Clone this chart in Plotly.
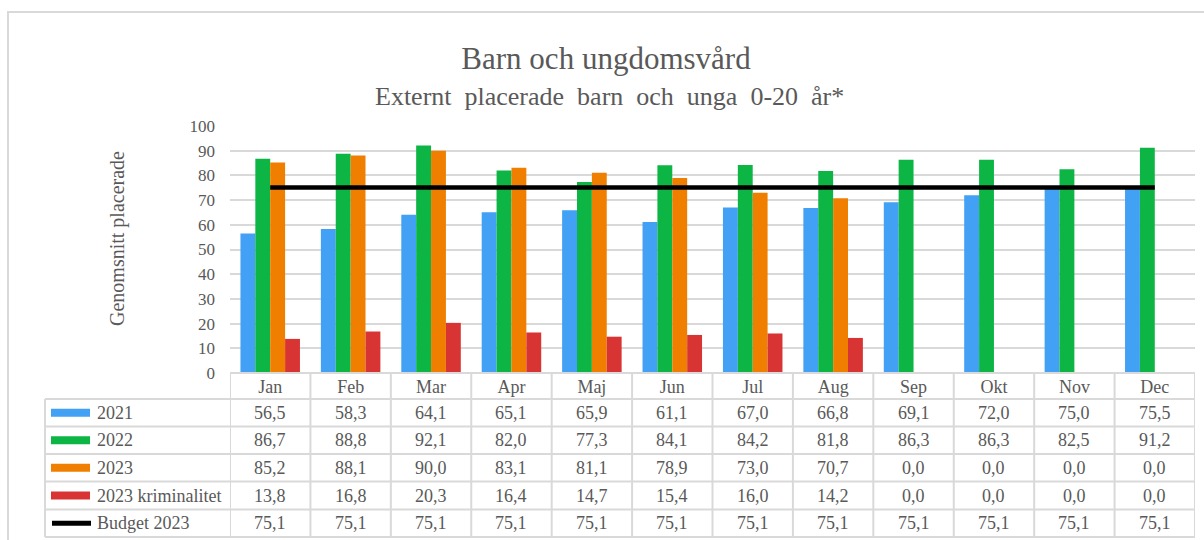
import plotly.graph_objects as go

months = ["Jan", "Feb", "Mar", "Apr", "Maj", "Jun", "Jul", "Aug", "Sep", "Okt", "Nov", "Dec"]
v2021 = [56.5, 58.3, 64.1, 65.1, 65.9, 61.1, 67.0, 66.8, 69.1, 72.0, 75.0, 75.5]
v2022 = [86.7, 88.8, 92.1, 82.0, 77.3, 84.1, 84.2, 81.8, 86.3, 86.3, 82.5, 91.2]
v2023 = [85.2, 88.1, 90.0, 83.1, 81.1, 78.9, 73.0, 70.7, 0.0, 0.0, 0.0, 0.0]
v2023_krim = [13.8, 16.8, 20.3, 16.4, 14.7, 15.4, 16.0, 14.2, 0.0, 0.0, 0.0, 0.0]
budget = [75.1] * 12

series_names = ["2021", "2022", "2023", "2023 kriminalitet", "Budget 2023"]
title_text = "Barn och ungdomsvård"
subtitle_text = "Externt placerade barn och unga 0-20 år*"
ytitle = "Genomsnitt placerade"

colors = ["#42A1F5", "#0DB545", "#F07F00", "#D93434"]
TXT = "#595959"
GRID = "#d9d9d9"
FONT = "Liberation Serif, Times New Roman, serif"

W, H = 1204, 540
L, R, T, B = 230, 1195, 126, 373


def px_x(px):
    return (px - L) / (R - L)


def px_y(py):
    return (B - py) / (B - T)


fig = go.Figure()
for name, vals, col in zip(series_names[:4], [v2021, v2022, v2023, v2023_krim], colors):
    fig.add_trace(go.Bar(x=months, y=vals, name=name, marker=dict(color=col, line=dict(width=0))))
fig.add_trace(go.Scatter(x=months, y=budget, name=series_names[4], mode="lines",
                         line=dict(color="black", width=4.5)))

shapes = []
annotations = []

# outer chart border
shapes.append(dict(type="rect", xref="paper", yref="paper",
                   x0=px_x(8), x1=px_x(1215), y0=px_y(12), y1=px_y(560),
                   line=dict(color=GRID, width=2), layer="below"))

# table geometry
row_edges = [399, 426.5, 454, 481.5, 509.5, 537]
row_centers = [(row_edges[i] + row_edges[i + 1]) / 2 for i in range(5)]

shapes.append(dict(type="line", xref="paper", yref="paper", x0=0, x1=1,
                   y0=px_y(373), y1=px_y(373), line=dict(color=GRID, width=2)))
for ry in row_edges:
    shapes.append(dict(type="line", xref="paper", yref="paper", x0=px_x(45), x1=1,
                       y0=px_y(ry), y1=px_y(ry), line=dict(color=GRID, width=2)))
for i in range(len(months) + 1):
    shapes.append(dict(type="line", xref="x", yref="paper", x0=i - 0.5, x1=i - 0.5,
                       y0=px_y(373), y1=px_y(537), line=dict(color=GRID, width=2)))
shapes.append(dict(type="line", xref="paper", yref="paper", x0=px_x(45), x1=px_x(45),
                   y0=px_y(399), y1=px_y(537), line=dict(color=GRID, width=2)))

table_vals = [v2021, v2022, v2023, v2023_krim, budget]
for r, (name, vals) in enumerate(zip(series_names, table_vals)):
    cy = row_centers[r]
    if r < 4:
        shapes.append(dict(type="rect", xref="paper", yref="paper",
                           x0=px_x(51), x1=px_x(90), y0=px_y(cy - 4), y1=px_y(cy + 4),
                           fillcolor=colors[r], line=dict(width=0)))
    else:
        shapes.append(dict(type="line", xref="paper", yref="paper",
                           x0=px_x(52), x1=px_x(91), y0=px_y(cy), y1=px_y(cy),
                           line=dict(color="black", width=5)))
    annotations.append(dict(xref="paper", yref="paper", x=px_x(95), y=px_y(cy),
                            xanchor="left", yanchor="middle", text=name, showarrow=False,
                            font=dict(family=FONT, size=18, color=TXT)))
    for m, v in zip(months, vals):
        annotations.append(dict(xref="x", yref="paper", x=m, y=px_y(cy),
                                xanchor="center", yanchor="middle",
                                text=f"{v:.1f}".replace(".", ","), showarrow=False,
                                font=dict(family=FONT, size=18, color=TXT)))

# subtitle
annotations.append(dict(xref="paper", yref="paper", x=px_x(609), y=px_y(97),
                        xanchor="center", yanchor="middle",
                        text=subtitle_text.replace(" ", "&nbsp;&nbsp;"), showarrow=False,
                        font=dict(family=FONT, size=26, color=TXT)))
# y axis title
annotations.append(dict(xref="paper", yref="paper", x=px_x(117), y=px_y(239),
                        xanchor="center", yanchor="middle", textangle=-90,
                        text=ytitle, showarrow=False,
                        font=dict(family=FONT, size=20, color=TXT)))

fig.update_layout(
    width=W, height=H,
    margin=dict(l=L, r=W - R, t=T, b=H - B, autoexpand=False),
    paper_bgcolor="white", plot_bgcolor="white",
    barmode="group", bargap=0.26, bargroupgap=0,
    showlegend=False,
    title=dict(text=title_text, x=606 / W, xanchor="center",
               y=1 - 58 / H, yanchor="middle", xref="container", yref="container",
               font=dict(family=FONT, size=31, color=TXT)),
    font=dict(family=FONT, color=TXT),
    xaxis=dict(showgrid=False, showline=False, ticks="", zeroline=False,
               tickfont=dict(family=FONT, size=18, color=TXT), ticklabelstandoff=1,
               range=[-0.5, 11.5]),
    yaxis=dict(range=[0, 100], dtick=10, showgrid=True, gridcolor=GRID, gridwidth=2,
               zeroline=False, showline=False, ticks="",
               tickfont=dict(family=FONT, size=17, color=TXT), ticklabelstandoff=14),
    shapes=shapes,
    annotations=annotations,
)

fig.write_html("out.html", config={"displayModeBar": False},
               post_script="document.body.style.margin='0';document.body.style.padding='0';")
